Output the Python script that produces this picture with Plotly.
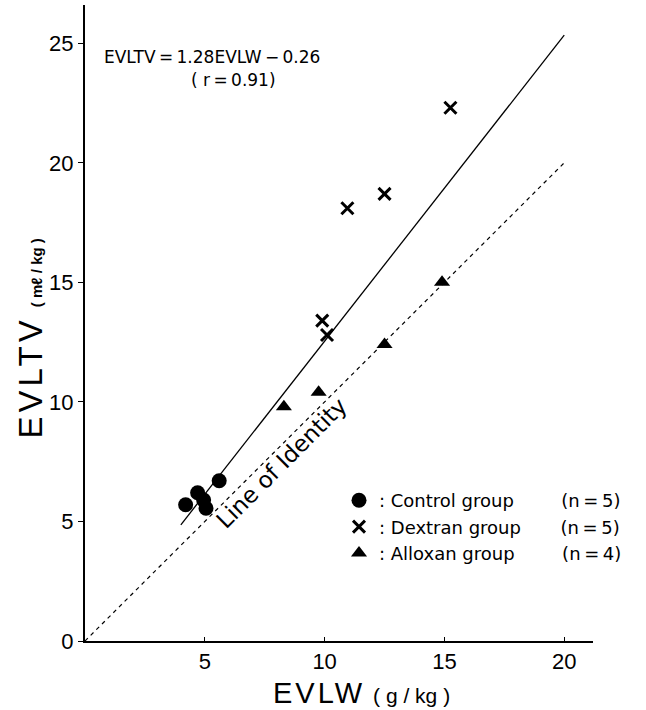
import plotly.graph_objects as go

# --- data ---
control_x = [4.2, 4.7, 4.95, 5.05, 5.6]
control_y = [5.7, 6.2, 5.9, 5.55, 6.7]
dextran_x = [9.9, 10.1, 10.95, 12.5, 15.25]
dextran_y = [13.4, 12.8, 18.1, 18.7, 22.3]
alloxan_x = [8.3, 9.75, 12.5, 14.9]
alloxan_y = [9.8, 10.4, 12.4, 15.0]

fit_slope = 1.28
fit_intercept = -0.26
fit_x = [4, 20]
identity_x = [0, 20]

x_ticks = [5, 10, 15, 20]
y_ticks = [0, 5, 10, 15, 20, 25]

FONT = "Liberation Sans, Arial, sans-serif"
WIDE = "DejaVu Sans, Verdana, sans-serif"

fig = go.Figure()

fig.add_trace(go.Scatter(
    x=identity_x, y=identity_x, mode="lines",
    line=dict(color="black", width=1.2, dash="4px,4px"), showlegend=False, hoverinfo="skip"))
fig.add_trace(go.Scatter(
    x=fit_x, y=[fit_slope * v + fit_intercept for v in fit_x], mode="lines",
    line=dict(color="black", width=1.3), showlegend=False, hoverinfo="skip"))

fig.add_trace(go.Scatter(
    x=control_x, y=control_y, mode="markers",
    name=": Control group\u2003\u2003\u2007(n\u2009=\u20095)",
    marker=dict(symbol="circle", size=15, color="black")))
fig.add_trace(go.Scatter(
    x=dextran_x, y=dextran_y, mode="markers",
    name=": Dextran group\u2003\u2003\u2009(n\u2009=\u20095)",
    marker=dict(symbol="x-thin", size=12, color="black", line=dict(width=3, color="black"))))
fig.add_trace(go.Scatter(
    x=alloxan_x, y=alloxan_y, mode="markers",
    name=": Alloxan group\u2003\u2003\u2007(n\u2009=\u20094)",
    marker=dict(symbol="triangle-up", size=14, color="black")))

fig.add_annotation(
    x=0.033, y=0.918, xref="paper", yref="paper", xanchor="left", yanchor="middle",
    text="EVLTV\u2009=\u20091.28EVLW\u2009\u2212\u20090.26", showarrow=False,
    font=dict(family=WIDE, size=17, color="black"))
fig.add_annotation(
    x=0.205, y=0.882, xref="paper", yref="paper", xanchor="left", yanchor="middle",
    text="( r\u2009=\u20090.91)", showarrow=False,
    font=dict(family=WIDE, size=17, color="black"))
fig.add_annotation(
    x=8.2, y=7.45, xref="x", yref="y", text="Line of Identity", showarrow=False,
    textangle=-45, font=dict(family=WIDE, size=23, color="black"))

# axis titles
fig.add_annotation(
    x=0.545, y=-0.082, xref="paper", yref="paper", xanchor="center", yanchor="middle",
    text="<span style='letter-spacing:3px'>EVLW</span> "
         "<span style='font-size:21px'>( g / kg )</span>",
    showarrow=False, font=dict(family=FONT, size=29, color="black"))
fig.add_annotation(
    x=-0.108, y=0.476, xref="paper", yref="paper", xanchor="center", yanchor="middle",
    textangle=-90,
    text="<span style='letter-spacing:4px'>EVLTV</span> "
         "<span style='font-size:15px'><b>( m\u2113 / kg )</b></span>",
    showarrow=False, font=dict(family=FONT, size=33, color="black"))

fig.update_layout(
    width=646, height=710,
    margin=dict(l=85, r=53, t=5, b=69),
    paper_bgcolor="white", plot_bgcolor="white",
    font=dict(family=FONT, color="black"),
    legend=dict(x=0.5, y=0.25, xanchor="left", yanchor="top",
                font=dict(family=WIDE, size=18, color="black"),
                itemwidth=30, tracegroupgap=6, bgcolor="rgba(0,0,0,0)"),
    xaxis=dict(range=[0, 21.2], tickvals=x_ticks, showgrid=False, zeroline=False,
               showline=True, linecolor="black", linewidth=2,
               ticks="inside", ticklen=4, tickcolor="black",
               tickfont=dict(family=FONT, size=22, color="black")),
    yaxis=dict(range=[0, 26.6], tickvals=y_ticks, showgrid=False, zeroline=False,
               showline=True, linecolor="black", linewidth=2,
               ticks="outside", ticklen=5, tickcolor="black",
               tickfont=dict(family=FONT, size=22, color="black")),
)

fig.write_html("out.html")
